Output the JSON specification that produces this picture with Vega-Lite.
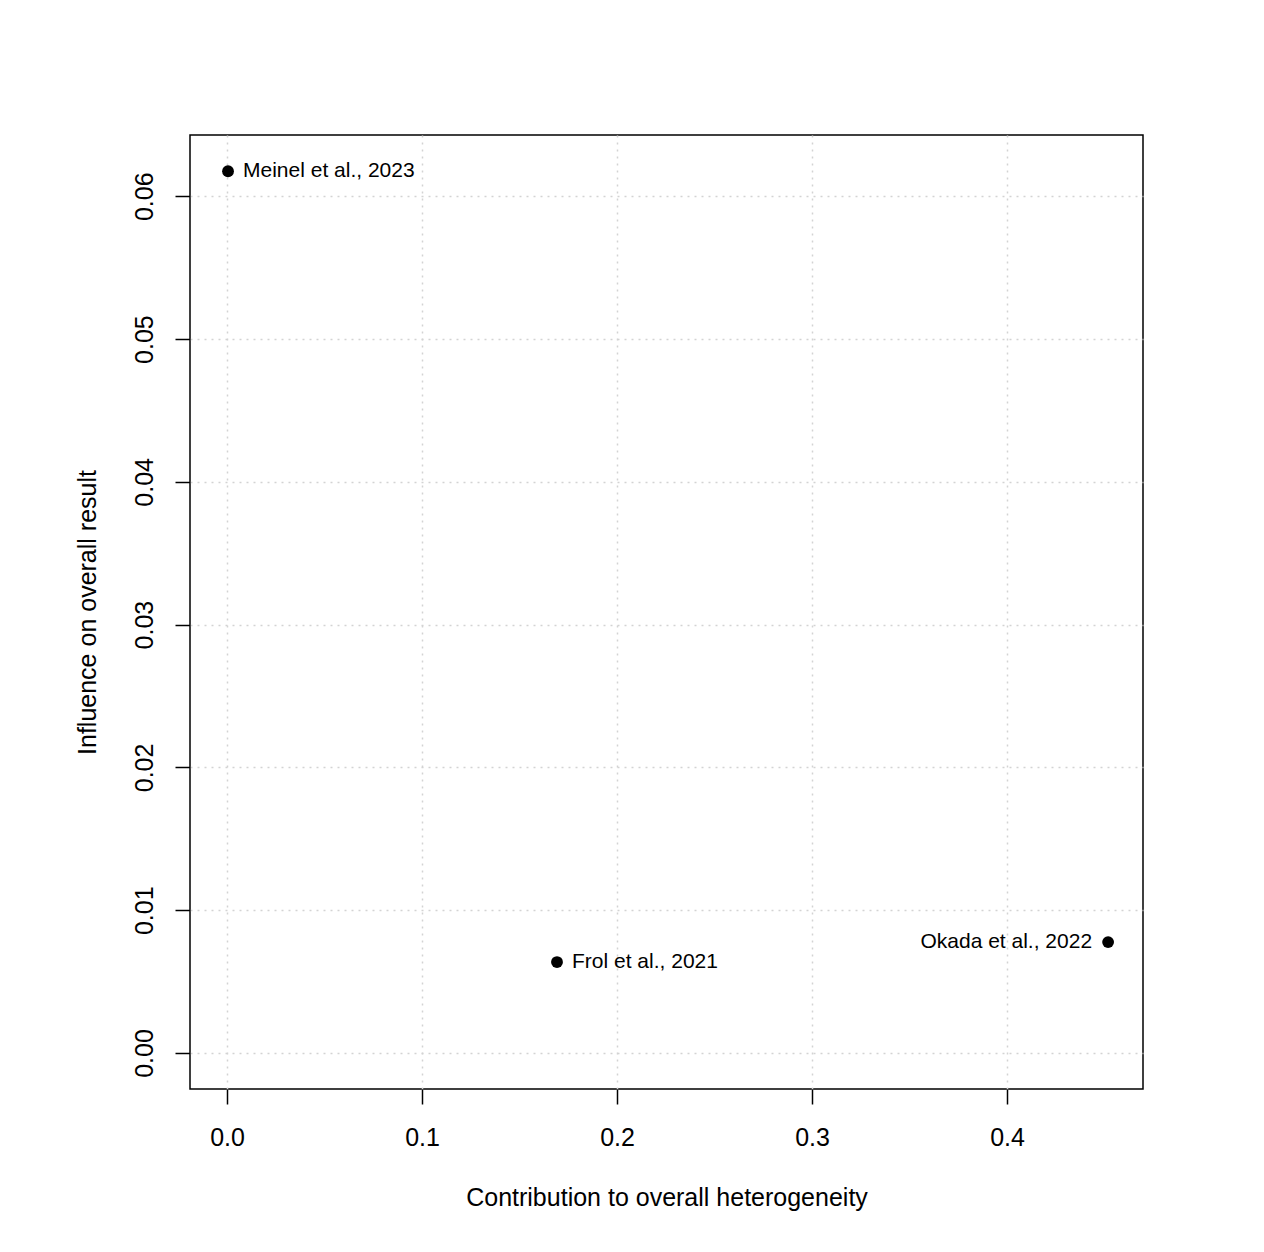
{
  "$schema": "https://vega.github.io/schema/vega-lite/v6.json",
  "width": 953,
  "height": 954,
  "autosize": {"type": "none"},
  "padding": {"left": 190, "top": 135, "right": 121, "bottom": 163},
  "background": "white",
  "config": {
    "font": "Liberation Sans",
    "view": {"stroke": "black", "strokeWidth": 1.5},
    "axis": {
      "domain": false,
      "grid": true,
      "gridColor": "#d3d3d3",
      "gridDash": [2, 5],
      "gridWidth": 1.5,
      "tickColor": "black",
      "tickWidth": 1.5,
      "tickSize": 15,
      "labelFontSize": 25,
      "labelColor": "black",
      "titleFontSize": 25,
      "titleFontWeight": "normal",
      "titleColor": "black"
    }
  },
  "data": {
    "values": [
      {"study": "Meinel et al., 2023", "x": 0.0005, "y": 0.06175, "side": "right"},
      {"study": "Frol et al., 2021", "x": 0.1692, "y": 0.00637, "side": "right"},
      {"study": "Okada et al., 2022", "x": 0.4518, "y": 0.00777, "side": "left"}
    ]
  },
  "encoding": {
    "x": {
      "field": "x",
      "type": "quantitative",
      "scale": {"domain": [-0.019, 0.4697], "nice": false, "zero": false},
      "axis": {
        "title": "Contribution to overall heterogeneity",
        "values": [0, 0.1, 0.2, 0.3, 0.4],
        "format": ".1f",
        "labelPadding": 21,
        "titlePadding": 35
      }
    },
    "y": {
      "field": "y",
      "type": "quantitative",
      "scale": {"domain": [-0.00252, 0.06429], "nice": false, "zero": false},
      "axis": {
        "title": "Influence on overall result",
        "values": [0, 0.01, 0.02, 0.03, 0.04, 0.05, 0.06],
        "format": ".2f",
        "labelAngle": -90,
        "labelPadding": 18,
        "titlePadding": 32
      }
    }
  },
  "layer": [
    {
      "mark": {"type": "point", "filled": true, "color": "black", "opacity": 1, "size": 140, "shape": "circle"}
    },
    {
      "transform": [{"filter": "datum.side == 'right'"}],
      "mark": {"type": "text", "align": "left", "baseline": "middle", "dx": 15, "fontSize": 21, "color": "black"},
      "encoding": {"text": {"field": "study"}}
    },
    {
      "transform": [{"filter": "datum.side == 'left'"}],
      "mark": {"type": "text", "align": "right", "baseline": "middle", "dx": -16, "fontSize": 21, "color": "black"},
      "encoding": {"text": {"field": "study"}}
    }
  ]
}
